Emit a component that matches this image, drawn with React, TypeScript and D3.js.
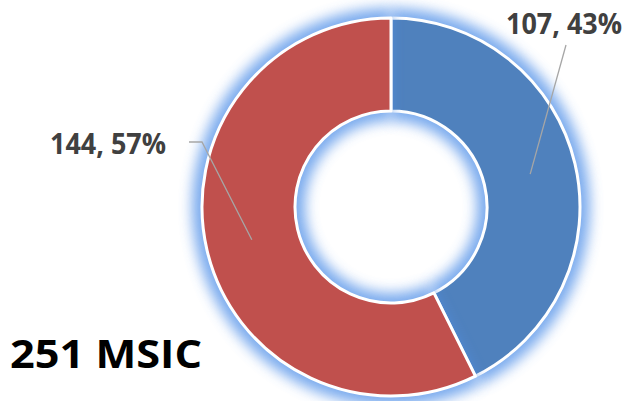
import * as d3 from 'd3'

const categories = ['A', 'B']
const values = [107, 144]
const colors = ['#4F81BD', '#C0504D']
const title = '251 MSIC'

const W = 627
const H = 401
const cx = 391
const cy = 207
const outerR = 189
const innerR = 96

export default function App() {
    const total = d3.sum(values)
    const pie = d3.pie<number>().sort(null).value(d => d)
    const arcs = pie(values)
    const arc = d3.arc<d3.PieArcDatum<number>>().innerRadius(innerR).outerRadius(outerR)
    const glowArc = d3.arc<d3.PieArcDatum<number>>().innerRadius(innerR - 10).outerRadius(outerR + 10)
    const midArc = d3.arc<d3.PieArcDatum<number>>().innerRadius(innerR).outerRadius(outerR + 1)

    const labelText = (v: number) => v + ', ' + Math.round(v / total * 100) + '%'

    // where each leader line ends and where its text sits, relative to center
    const labelPos = [
        { x: 175, y: -162, anchor: 'middle', tx: 564 - cx, ty: 34 - cy },
        { x: -202, y: -65, anchor: 'end', tx: 166 - cx, ty: 154 - cy },
    ]

    return (
        <svg width={W} height={H} style={{ position: 'fixed', left: 0, top: 0, background: '#fff' }}>
            <defs>
                <filter id="glow" x="-30%" y="-30%" width="160%" height="160%">
                    <feGaussianBlur stdDeviation="6.5" />
                </filter>
            </defs>
            <g transform={`translate(${cx},${cy})`}>
                {arcs.map((a, i) => (
                    <g key={categories[i]}>
                        <path d={glowArc(a) || ''} fill="#4F8FE8" opacity={0.75} filter="url(#glow)" />
                        <path d={arc(a) || ''} fill={colors[i]} stroke="#fff" strokeWidth={3} strokeLinejoin="round" />
                    </g>
                ))}
                {arcs.map((a, i) => {
                    const [mx, my] = midArc.centroid(a)
                    const p = labelPos[i]
                    const pts = i === 0
                        ? [[mx, my], [p.x, p.y]]
                        : [[mx, my], [p.x + 13, p.y], [p.x, p.y]]
                    return (
                        <g key={'l' + i}>
                            <polyline points={pts.map(q => q.join(',')).join(' ')} fill="none" stroke="#a6a6a6" strokeWidth={1.3} />
                            <text x={p.tx} y={p.ty} textAnchor={p.anchor} fontFamily="'Open Sans', sans-serif"
                                fontWeight="bold" fontSize={28} fill="#404040" textLength={116} lengthAdjust="spacingAndGlyphs">
                                {labelText(values[i])}
                            </text>
                        </g>
                    )
                })}
            </g>
            <text x={10} y={368} fontFamily="'Open Sans', sans-serif" fontWeight="bold" fontSize={39} fill="#000"
                textLength={192} lengthAdjust="spacingAndGlyphs">{title}</text>
        </svg>
    )
}
